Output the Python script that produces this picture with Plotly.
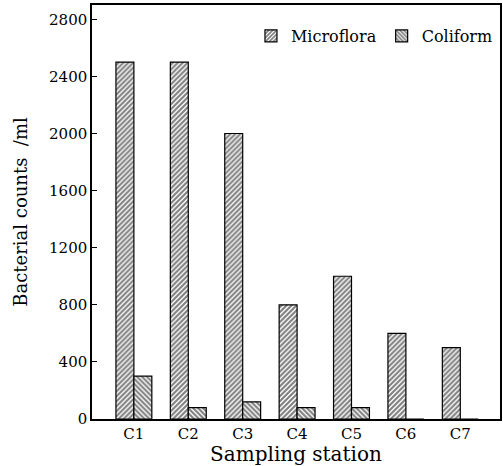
import plotly.graph_objects as go

stations = ["C1", "C2", "C3", "C4", "C5", "C6", "C7"]
microflora = [2500, 2500, 2000, 800, 1000, 600, 500]
coliform = [300, 80, 120, 80, 80, 0, 0]
y_ticks = [0, 400, 800, 1200, 1600, 2000, 2400, 2800]

font_family = "DejaVu Serif"

fig = go.Figure()
fig.add_trace(go.Bar(
    name="Microflora", x=stations, y=microflora,
    marker=dict(color="white", line=dict(color="black", width=1.2),
                pattern=dict(shape="/", fgcolor="black", bgcolor="white", size=3.5, solidity=0.6)),
))
fig.add_trace(go.Bar(
    name="Coliform", x=stations, y=coliform,
    marker=dict(color="white", line=dict(color="black", width=1.2),
                pattern=dict(shape="\\", fgcolor="black", bgcolor="white", size=3.5, solidity=0.6)),
))

fig.update_layout(
    width=503, height=466,
    margin=dict(l=92, r=1, t=5, b=47),
    paper_bgcolor="white", plot_bgcolor="white",
    barmode="group", bargap=0.34, bargroupgap=0,
    font=dict(family=font_family, color="black", size=14),
    showlegend=True,
    legend=dict(orientation="h", x=0.995, xanchor="right", y=0.925, yanchor="middle",
                font=dict(size=16, family=font_family), bgcolor="rgba(0,0,0,0)",
                itemwidth=30, traceorder="normal"),
    xaxis=dict(range=[-0.77, 6.73], showline=True, linecolor="black", linewidth=1.5,
               mirror=True, ticks="", showgrid=False, zeroline=False,
               tickfont=dict(size=15),
               title=dict(text="Sampling station", font=dict(size=20), standoff=0)),
    yaxis=dict(range=[0, 2900], tickvals=y_ticks, showline=True, linecolor="black",
               linewidth=1.5, mirror=True, ticks="inside", ticklen=5, tickcolor="black",
               showgrid=False, zeroline=False, tickfont=dict(size=15),
               title=dict(text="Bacterial counts \u00a0/ml", font=dict(size=18), standoff=17)),
)

fig.write_html("out.html", config={"displayModeBar": False},
               post_script="document.body.style.margin='0';")
